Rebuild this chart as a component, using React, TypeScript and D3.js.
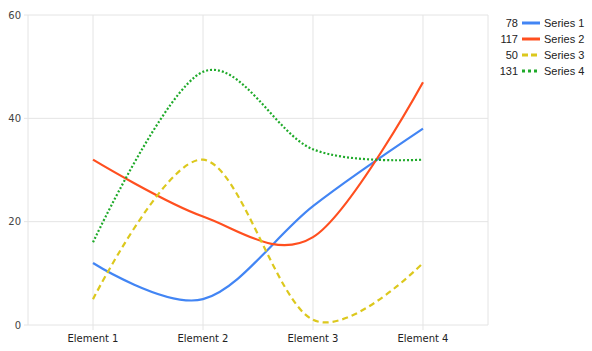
import { useRef, useEffect } from "react";
import * as d3 from "d3";

const categories = ["Element 1", "Element 2", "Element 3", "Element 4"];
const seriesNames = ["Series 1", "Series 2", "Series 3", "Series 4"];
const series1 = [12, 5, 23, 38];
const series2 = [32, 21, 17, 47];
const series3 = [5, 32, 1, 12];
const series4 = [16, 49, 34, 32];
const yTicks = [0, 20, 40, 60];

const colors = ["#4285f4", "#ff4f1f", "#dcc81d", "#1faa2a"];
const dashes = [null, null, "6,4", "2,2"];

export default function App() {
  const ref = useRef<SVGSVGElement>(null);

  useEffect(() => {
    const svg = d3.select(ref.current);
    svg.selectAll("*").remove();

    const width = 592;
    const height = 351;
    const margin = { top: 15, right: 104, bottom: 26, left: 28 };
    const innerWidth = width - margin.left - margin.right;
    const innerHeight = height - margin.top - margin.bottom;

    const data = [series1, series2, series3, series4];

    const x = d3.scalePoint().domain(categories).range([0, innerWidth]).padding(0.591);
    const y = d3.scaleLinear().domain([0, 60]).range([innerHeight, 0]);

    const g = svg.append("g").attr("transform", `translate(${margin.left},${margin.top})`);

    // --- grid ---
    g.append("g")
      .selectAll("line")
      .data(yTicks)
      .join("line")
      .attr("x1", -4)
      .attr("x2", innerWidth)
      .attr("y1", (d) => y(d))
      .attr("y2", (d) => y(d))
      .attr("stroke", "#e4e4e4");

    g.append("g")
      .selectAll("line")
      .data(categories)
      .join("line")
      .attr("x1", (d) => x(d)!)
      .attr("x2", (d) => x(d)!)
      .attr("y1", 0)
      .attr("y2", innerHeight + 5)
      .attr("stroke", "#e4e4e4");

    [0, innerWidth].forEach((xx) =>
      g.append("line")
        .attr("x1", xx)
        .attr("x2", xx)
        .attr("y1", 0)
        .attr("y2", innerHeight)
        .attr("stroke", "#e4e4e4")
    );

    // --- tick labels ---
    g.append("g")
      .selectAll("text")
      .data(yTicks)
      .join("text")
      .attr("x", -7)
      .attr("y", (d) => y(d))
      .attr("dy", "0.35em")
      .attr("text-anchor", "end")
      .attr("fill", "#444")
      .style("font-family", "DejaVu Sans, sans-serif")
      .style("font-size", "10px")
      .text((d) => d);

    g.append("g")
      .selectAll("text")
      .data(categories)
      .join("text")
      .attr("x", (d) => x(d)!)
      .attr("y", innerHeight + 17)
      .attr("text-anchor", "middle")
      .attr("fill", "#222")
      .style("font-family", "DejaVu Sans, sans-serif")
      .style("font-size", "10px")
      .text((d) => d);

    // --- lines ---
    const line = d3
      .line<number>()
      .x((_, i) => x(categories[i])!)
      .y((d) => y(d))
      .curve(d3.curveCardinal.tension(0));

    data.forEach((vals, i) => {
      g.append("path")
        .attr("d", line(vals))
        .attr("fill", "none")
        .attr("stroke", colors[i])
        .attr("stroke-width", 2.2)
        .attr("stroke-dasharray", dashes[i]);
    });

    // --- legend ---
    const lg = svg.append("g").attr("transform", `translate(522,23)`);
    data.forEach((vals, i) => {
      const row = lg.append("g").attr("transform", `translate(0,${i * 16})`);
      row.append("text")
        .attr("x", -4)
        .attr("dy", "0.35em")
        .attr("text-anchor", "end")
        .attr("fill", "#222")
        .style("font-family", "Liberation Sans, Arial, sans-serif")
        .style("font-size", "11px")
        .text(d3.sum(vals));
      row.append("line")
        .attr("x1", 0)
        .attr("x2", 18)
        .attr("stroke", colors[i])
        .attr("stroke-width", 3)
        .attr("stroke-dasharray", dashes[i] ? (i === 2 ? "6,3" : "3,3") : null);
      row.append("text")
        .attr("x", 22)
        .attr("dy", "0.35em")
        .attr("fill", "#222")
        .style("font-family", "Liberation Sans, Arial, sans-serif")
        .style("font-size", "11px")
        .text(seriesNames[i]);
    });
  }, []);

  return (
    <svg
      ref={ref}
      width={592}
      height={351}
      style={{ position: "absolute", left: 0, top: 0 }}
    ></svg>
  );
}
